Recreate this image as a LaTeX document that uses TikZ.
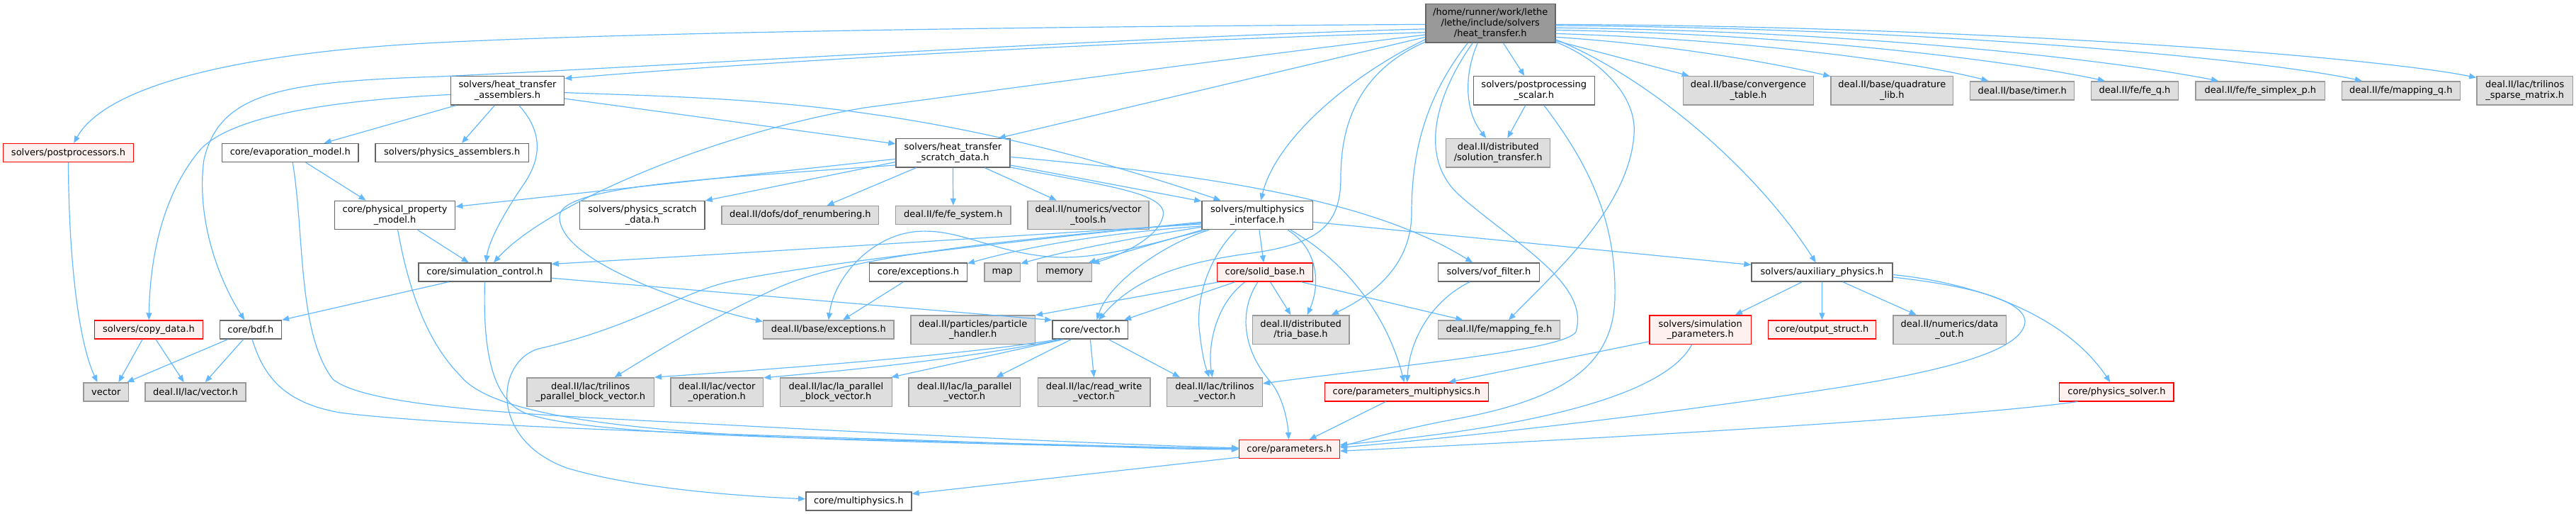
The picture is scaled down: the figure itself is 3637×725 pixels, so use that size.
\documentclass[tikz,border=0pt]{standalone}
\usepackage{fontspec}
\usepackage{xcolor}
\usepackage{tikz}
\usetikzlibrary{arrows.meta, positioning}
\newfontfamily\doxyfont{DejaVu Sans}
\definecolor{edgeblue}{HTML}{63B8FF}
\definecolor{hdrborder}{HTML}{666666}
\definecolor{sysborder}{HTML}{999999}
\definecolor{sysfill}{HTML}{DEDEDE}
\definecolor{truncfill}{HTML}{FFF0F0}
\definecolor{mainfill}{HTML}{999999}
\tikzset{
  hdr/.style={rectangle, draw=hdrborder, fill=white, line width=1.4pt,
              minimum height=26pt, inner sep=0pt, align=center,
              font=\doxyfont\fontsize{13}{14.8}\selectfont},
  sys/.style={hdr, draw=sysborder, fill=sysfill},
  trunc/.style={hdr, draw=red, fill=truncfill},
  mainhdr/.style={hdr, draw=hdrborder, fill=mainfill, minimum height=54.6pt},
  twoline/.style={minimum height=40.4pt},
  incl/.style={draw=edgeblue, line width=1.2pt, -{Triangle[length=10pt,width=8pt]}},
}

\begin{document}
\begin{tikzpicture}[x=1pt, y=-1pt]
  \useasboundingbox (0,0) rectangle (3637,725);

  % Nodes
  \node[mainhdr, minimum width=183pt] (root) at (2104.3,32.8) {/home/runner/work/lethe\\/lethe/include/solvers\\/heat\_transfer.h};

  \node[hdr, twoline, minimum width=160pt] (htAsm) at (716.5,127.8) {solvers/heat\_transfer\\\_assemblers.h};
  \node[hdr, twoline, minimum width=171pt] (ppScalar) at (2165.8,127.8) {solvers/postprocessing\\\_scalar.h};
  \node[sys, twoline, minimum width=184pt] (convTable) at (2468.5,127.8) {deal.II/base/convergence\\\_table.h};
  \node[sys, twoline, minimum width=172.5pt] (quadLib) at (2671.3,127.8) {deal.II/base/quadrature\\\_lib.h};
  \node[sys, minimum width=147pt] (timer) at (2855.2,127.8) {deal.II/base/timer.h};
  \node[sys, minimum width=123pt] (feQ) at (3014,127.8) {deal.II/fe/fe\_q.h};
  \node[sys, minimum width=182.7pt] (feSimplex) at (3191.4,127.8) {deal.II/fe/fe\_simplex\_p.h};
  \node[sys, minimum width=167pt] (mapQ) at (3389.8,127.8) {deal.II/fe/mapping\_q.h};
  \node[sys, twoline, minimum width=135.7pt] (triSparse) at (3564.7,127.8) {deal.II/lac/trilinos\\\_sparse\_matrix.h};

  \node[trunc, minimum width=183.5pt] (postProc) at (96.5,215.5) {solvers/postprocessors.h};
  \node[hdr, minimum width=192.4pt] (evapModel) at (409.8,215.5) {core/evaporation\_model.h};
  \node[hdr, minimum width=216.3pt] (physAsm) at (638.2,215.5) {solvers/physics\_assemblers.h};
  \node[hdr, twoline, minimum width=160.8pt] (htScratch) at (1345.4,215.7) {solvers/heat\_transfer\\\_scratch\_data.h};
  \node[sys, twoline, minimum width=147pt] (solTransfer) at (2115.2,215.7) {deal.II/distributed\\/solution\_transfer.h};

  \node[hdr, twoline, minimum width=170.2pt] (physProp) at (557.6,303.5) {core/physical\_property\\\_model.h};
  \node[hdr, twoline, minimum width=176.3pt] (physScratch) at (906.9,303.5) {solvers/physics\_scratch\\\_data.h};
  \node[sys, minimum width=221.7pt] (dofRenum) at (1129.9,303.5) {deal.II/dofs/dof\_renumbering.h};
  \node[sys, minimum width=162.5pt] (feSystem) at (1345.8,303.5) {deal.II/fe/fe\_system.h};
  \node[sys, twoline, minimum width=171pt] (vecTools) at (1536.5,303.5) {deal.II/numerics/vector\\\_tools.h};
  \node[hdr, twoline, minimum width=156.4pt] (mpInterface) at (1775.2,303.5) {solvers/multiphysics\\\_interface.h};

  \node[hdr, minimum width=187pt] (simControl) at (684.5,384) {core/simulation\_control.h};
  \node[hdr, minimum width=137.6pt] (coreExc) at (1296.5,384) {core/exceptions.h};
  \node[sys, minimum width=50.6pt] (stlMap) at (1415.1,384) {map};
  \node[sys, minimum width=77pt] (stlMemory) at (1503,384) {memory};
  \node[trunc, minimum width=135pt] (solidBase) at (1785.9,384) {core/solid\_base.h};
  \node[hdr, minimum width=142.8pt] (vofFilter) at (2101.9,384) {solvers/vof\_filter.h};
  \node[hdr, minimum width=199pt] (auxPhys) at (2572.5,384) {solvers/auxiliary\_physics.h};

  \node[trunc, minimum width=152.7pt] (copyData) at (210,465) {solvers/copy\_data.h};
  \node[hdr, minimum width=87pt] (bdf) at (353.9,465) {core/bdf.h};
  \node[sys, minimum width=184.4pt] (baseExc) at (1169.8,465) {deal.II/base/exceptions.h};
  \node[sys, twoline, minimum width=175.4pt] (partHandler) at (1373.7,465) {deal.II/particles/particle\\\_handler.h};
  \node[hdr, minimum width=106.7pt] (coreVector) at (1539.3,465) {core/vector.h};
  \node[sys, twoline, minimum width=136.6pt] (triaBase) at (1836.5,465) {deal.II/distributed\\/tria\_base.h};
  \node[sys, minimum width=172pt] (mappingFE) at (2116.5,465) {deal.II/fe/mapping\_fe.h};
  \node[trunc, twoline, minimum width=143.4pt] (simParams) at (2400.7,465) {solvers/simulation\\\_parameters.h};
  \node[trunc, minimum width=151.8pt] (outputStruct) at (2572.4,465) {core/output\_struct.h};
  \node[sys, twoline, minimum width=159.4pt] (dataOut) at (2752.5,465) {deal.II/numerics/data\\\_out.h};

  \node[sys, minimum width=63.5pt] (stdVector) at (149.8,552.8) {vector};
  \node[sys, minimum width=142pt] (lacVector) at (276,552.8) {deal.II/lac/vector.h};
  \node[sys, twoline, minimum width=179.4pt] (triParBlock) at (833.7,553) {deal.II/lac/trilinos\\\_parallel\_block\_vector.h};
  \node[sys, twoline, minimum width=130.6pt] (vecOp) at (1012.3,553) {deal.II/lac/vector\\\_operation.h};
  \node[sys, twoline, minimum width=157.9pt] (laParBlock) at (1180.4,553) {deal.II/lac/la\_parallel\\\_block\_vector.h};
  \node[sys, twoline, minimum width=157.4pt] (laParVec) at (1361.7,553) {deal.II/lac/la\_parallel\\\_vector.h};
  \node[sys, twoline, minimum width=158.6pt] (rwVector) at (1544.6,553) {deal.II/lac/read\_write\\\_vector.h};
  \node[sys, twoline, minimum width=134.8pt] (triVector) at (1715,553) {deal.II/lac/trilinos\\\_vector.h};
  \node[trunc, minimum width=231pt] (paramMP) at (1985.9,552.8) {core/parameters\_multiphysics.h};
  \node[trunc, minimum width=161.3pt] (physSolver) at (2988.4,552.8) {core/physics\_solver.h};

  \node[trunc, minimum width=141.7pt] (params) at (1820.5,633.7) {core/parameters.h};
  \node[hdr, minimum width=149.2pt] (multiphysics) at (1212.4,707) {core/multiphysics.h};

  % Edges from the main header
  \draw[incl] (root.181) .. controls (1400,38) and (900,46) .. (620,60) .. controls (340,74) and (150,120) .. (postProc);
  \draw[incl] (root.185) .. controls (1600,52) and (1000,90) .. (620,108) .. controls (400,115) and (310,130) .. (288,225) .. controls (278,295) and (300,380) .. (bdf);
  \draw[incl] (root.188) .. controls (1600,58) and (1100,85) .. (htAsm.12);
  \draw[incl] (root.190) .. controls (1600,100) and (1350,135) .. (1220,152) .. controls (1000,190) and (770,290) .. (simControl);
  \draw[incl] (root.192) -- (htScratch.18);
  \draw[incl] (root.194) .. controls (1900,110) and (1800,200) .. (mpInterface);
  \draw[incl] (root.196) .. controls (1930,95) and (1893,160) .. (1893,250) .. controls (1893,320) and (1860,345) .. (1760,358) .. controls (1660,372) and (1600,395) .. (coreVector);
  \draw[incl] (root.221) .. controls (2010,140) and (1993,220) .. (1993,300) .. controls (1993,380) and (1930,420) .. (triaBase);
  \draw[incl] (root.228) .. controls (2030,130) and (2000,220) .. (2060,275) .. controls (2140,345) and (2245,400) .. (2225,468) .. controls (2210,495) and (1950,518) .. (triVector.10);
  \draw[incl] (root.237) .. controls (2065,110) and (2070,160) .. (solTransfer);
  \draw[incl] (root.-57) -- (ppScalar);
  \draw[incl] (root.-15) -- (convTable.166);
  \draw[incl] (root.-12) .. controls (2350,62) and (2500,88) .. (quadLib.167);
  \draw[incl] (root.-9) .. controls (2450,55) and (2700,86) .. (timer.164);
  \draw[incl] (root.-6) .. controls (2550,48) and (2850,88) .. (feQ.162);
  \draw[incl] (root.-4) .. controls (2650,44) and (3000,88) .. (feSimplex.167);
  \draw[incl] (root.-2) .. controls (2750,40) and (3200,85) .. (mapQ.166);
  \draw[incl] (root.-1) .. controls (2800,37) and (3350,80) .. (triSparse.165);
  \draw[incl] (root.-16) .. controls (2250,80) and (2312,130) .. (2307,190) .. controls (2300,290) and (2200,380) .. (mappingFE);
  \draw[incl] (root.-14) .. controls (2330,110) and (2480,240) .. (auxPhys);

  % Edges between the other headers
  \draw[incl] (htAsm.184) .. controls (500,140) and (330,158) .. (282,212) .. controls (235,268) and (212,350) .. (copyData);
  \draw[incl] (htAsm.196) -- (evapModel.16);
  \draw[incl] (htAsm.229) -- (physAsm.45);
  \draw[incl] (htAsm.-52) .. controls (770,190) and (762,228) .. (738,262) .. controls (712,300) and (690,340) .. (simControl);
  \draw[incl] (htAsm.-8) -- (htScratch.171);
  \draw[incl] (htAsm.-2) .. controls (1050,140) and (1300,140) .. (mpInterface.158);

  \draw[incl] (evapModel.-32) -- (physProp.153);
  \draw[incl] (evapModel.-76) .. controls (430,330) and (420,470) .. (470,535) .. controls (520,575) and (750,585) .. (1000,598) .. controls (1300,614) and (1600,628) .. (params);
  \draw[incl] (physProp.-33) -- (simControl.149);
  \draw[incl] (physProp.-79) .. controls (575,400) and (600,480) .. (650,530) .. controls (690,580) and (850,610) .. (1220,621) .. controls (1450,628) and (1650,632) .. (params);

  \draw[incl] (simControl.195) -- (bdf.north east);
  \draw[incl] (simControl.south) .. controls (682,480) and (690,560) .. (740,582) .. controls (800,606) and (1000,615) .. (1220,620) .. controls (1450,626) and (1680,632) .. (params);
  \draw[incl] (simControl.-5) -- (coreVector.166);

  \draw[incl] (bdf.203) -- (stdVector.25);
  \draw[incl] (bdf.233) -- (lacVector.45);
  \draw[incl] (bdf.-81) .. controls (372,530) and (400,568) .. (480,582) .. controls (620,600) and (1000,612) .. (1300,621) .. controls (1500,628) and (1650,634) .. (params);
  \draw[incl] (copyData.237) -- (stdVector.38);
  \draw[incl] (copyData.-54) -- (lacVector.140);
  \draw[incl] (postProc.south) .. controls (97,360) and (110,480) .. (stdVector.132);

  \draw[incl] (htScratch.186) -- (physProp.8);
  \draw[incl] (htScratch.189) -- (physScratch.13);
  \draw[incl] (htScratch.192) .. controls (1000,252) and (792,262) .. (790,305) .. controls (788,370) and (980,432) .. (baseExc.173);
  \draw[incl] (htScratch.202) -- (dofRenum.20);
  \draw[incl] (htScratch.south) -- (feSystem.north);
  \draw[incl] (htScratch.-25) -- (vecTools.155);
  \draw[incl] (htScratch.-4) .. controls (1750,250) and (1950,290) .. (vofFilter.149);
  \draw[incl] (htScratch.-12) -- (mpInterface.166);
  \draw[incl] (htScratch.-14) .. controls (1560,262) and (1650,272) .. (1642,305) .. controls (1634,338) and (1580,360) .. (stlMemory);

  \draw[incl] (mpInterface.189) .. controls (1400,335) and (1000,360) .. (simControl.7);
  \draw[incl] (mpInterface.191) .. controls (1550,330) and (1450,348) .. (coreExc.10);
  \draw[incl] (mpInterface.192) .. controls (1600,335) and (1500,355) .. (stlMap.25);
  \draw[incl] (mpInterface.195) -- (stlMemory.22);
  \draw[incl] (mpInterface.188) .. controls (1400,340) and (1200,362) .. (1100,405) .. controls (1000,450) and (920,500) .. (triParBlock);
  \draw[incl] (mpInterface.187) .. controls (1450,338) and (1150,372) .. (1035,396) .. controls (960,412) and (900,460) .. (760,492) .. controls (700,510) and (690,620) .. (800,660) .. controls (900,690) and (1050,700) .. (multiphysics);
  \draw[incl] (mpInterface.197) .. controls (1640,345) and (1565,400) .. (coreVector.56);
  \draw[incl] (mpInterface.215) .. controls (1700,370) and (1690,430) .. (1693,462) .. controls (1696,492) and (1700,512) .. (triVector);
  \draw[incl] (mpInterface) -- (solidBase);
  \draw[incl] (mpInterface.-26) .. controls (1860,350) and (1865,400) .. (triaBase);
  \draw[incl] (mpInterface.-24) .. controls (1905,372) and (1960,450) .. (paramMP);
  \draw[incl] (mpInterface.-7) -- (auxPhys.174);
  \draw[incl] (mpInterface.196) .. controls (1620,345) and (1545,368) .. (1480,362) .. controls (1400,355) and (1350,320) .. (1290,327) .. controls (1230,334) and (1178,390) .. (baseExc.north);
  \draw[incl] (coreExc.213) -- (baseExc.34);

  \draw[incl] (solidBase.192) -- (partHandler.13);
  \draw[incl] (solidBase.198) -- (coreVector.16);
  \draw[incl] (solidBase.206) .. controls (1715,430) and (1705,490) .. (triVector);
  \draw[incl] (solidBase.234) .. controls (1748,440) and (1755,495) .. (1795,540) .. controls (1812,562) and (1818,595) .. (params);
  \draw[incl] (solidBase.-61) -- (triaBase.124);
  \draw[incl] (solidBase.-15) -- (mappingFE.165);

  \draw[incl] (coreVector.197) .. controls (1350,502) and (1100,520) .. (triParBlock.13);
  \draw[incl] (coreVector.199) .. controls (1350,508) and (1200,522) .. (vecOp.17);
  \draw[incl] (coreVector.200) -- (laParBlock.15);
  \draw[incl] (coreVector.207) -- (laParVec.25);
  \draw[incl] (coreVector.south) -- (rwVector.north);
  \draw[incl] (coreVector.-28) -- (triVector.157);

  \draw[incl] (vofFilter.207) .. controls (2020,425) and (1990,480) .. (paramMP);
  \draw[incl] (simParams.193) -- (paramMP.13);
  \draw[incl] (simParams.240) .. controls (2350,560) and (2150,605) .. (params.5);
  \draw[incl] (paramMP.205) -- (params.26);
  \draw[incl] (ppScalar.240) -- (solTransfer.58);
  \draw[incl] (ppScalar.-56) .. controls (2250,240) and (2282,320) .. (2280,420) .. controls (2278,520) and (2200,565) .. (2050,592) .. controls (1980,605) and (1930,620) .. (params.3);

  \draw[incl] (auxPhys.206) -- (simParams.23);
  \draw[incl] (auxPhys.south) -- (outputStruct.north);
  \draw[incl] (auxPhys.-25) -- (dataOut.156);
  \draw[incl] (auxPhys.-2) .. controls (2800,400) and (2920,450) .. (physSolver);
  \draw[incl] (auxPhys.-4) .. controls (2800,405) and (2872,430) .. (2857,462) .. controls (2842,496) and (2750,522) .. (2600,546) .. controls (2350,585) and (2050,618) .. (params.2);
  \draw[incl] (physSolver.194) .. controls (2800,585) and (2400,612) .. (params.-2);
  \draw[incl] (params.189) -- (multiphysics.8);
\end{tikzpicture}
\end{document}
